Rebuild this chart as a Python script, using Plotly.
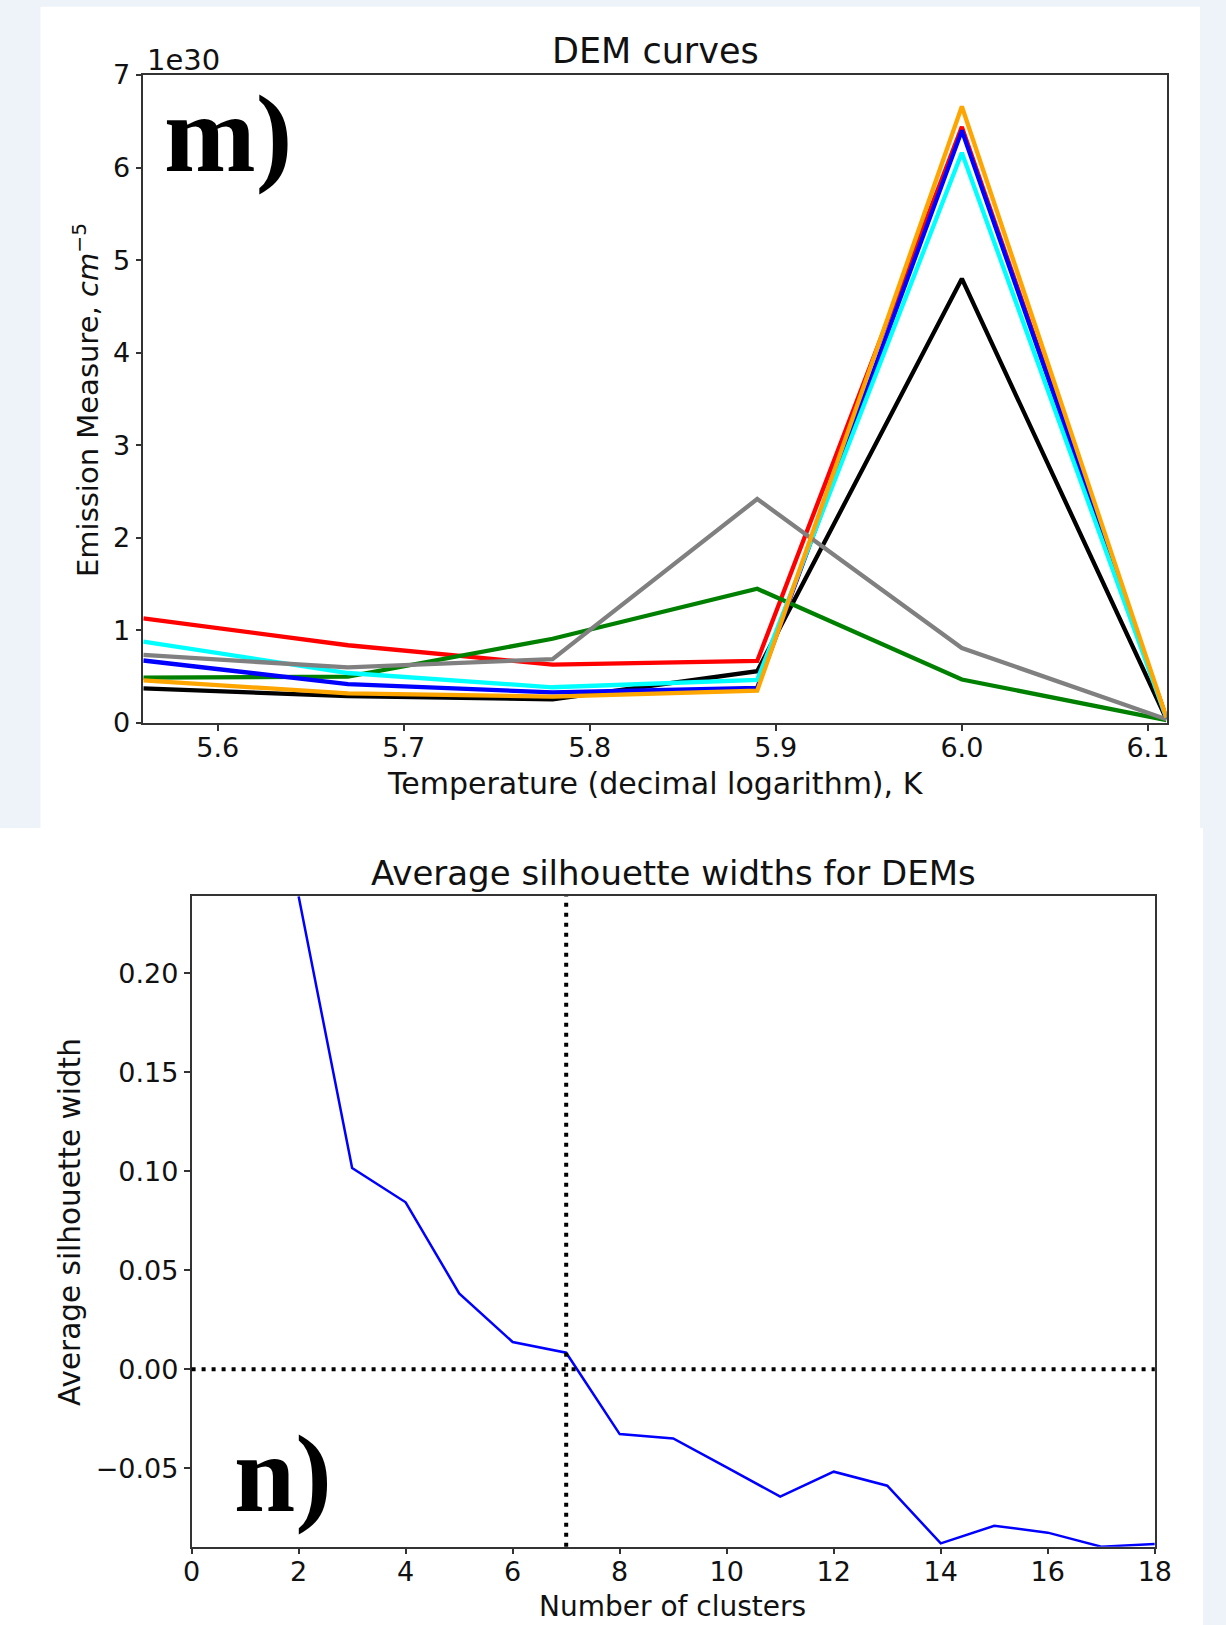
import plotly.graph_objects as go

W, H = 1226, 1625

# ---------------- DEM curves (panel m) ----------------
log_temperature = [5.56, 5.67, 5.78, 5.89, 6.00, 6.11]
EM_SCALE = 1e30
dem_black  = [0.375, 0.29, 0.256, 0.56, 4.80, 0.04]
dem_red    = [1.13, 0.84, 0.63, 0.67, 6.44, 0.05]
dem_green  = [0.49, 0.50, 0.91, 1.45, 0.47, 0.03]
dem_blue   = [0.675, 0.42, 0.33, 0.38, 6.40, 0.05]
dem_cyan   = [0.88, 0.54, 0.386, 0.465, 6.16, 0.05]
dem_grey   = [0.735, 0.60, 0.69, 2.42, 0.81, 0.04]
dem_orange = [0.46, 0.32, 0.285, 0.35, 6.66, 0.06]
em_ticks = [0, 1, 2, 3, 4, 5, 6, 7]

# ---------------- Silhouette widths (panel n) ----------------
n_clusters = [2, 3, 4, 5, 6, 7, 8, 9, 10, 11, 12, 13, 14, 15, 16, 17, 18]
avg_silhouette = [0.239, 0.1017, 0.0844, 0.0384, 0.0138, 0.0084, -0.0327,
                  -0.0349, -0.0495, -0.0643, -0.0517, -0.0588, -0.0879,
                  -0.079, -0.0825, -0.0896, -0.0882]
optimal_k = 7
zero_level = 0.0


def px(x):
    return x / W


def py(y):
    return 1 - y / H


FONT = "DejaVu Sans"
fig = go.Figure()

series = [
    (dem_black, "#000000"),
    (dem_red, "#FF0000"),
    (dem_green, "#008000"),
    (dem_blue, "#0000FF"),
    (dem_cyan, "#00FFFF"),
    (dem_grey, "#808080"),
    (dem_orange, "#FFA500"),
]
for vals, col in series:
    fig.add_trace(go.Scatter(
        x=log_temperature, y=[v * EM_SCALE for v in vals], mode="lines",
        line=dict(color=col, width=4.3), xaxis="x", yaxis="y",
        showlegend=False, hoverinfo="skip"))

fig.add_trace(go.Scatter(
    x=n_clusters, y=avg_silhouette, mode="lines",
    line=dict(color="#0000FF", width=2.5), xaxis="x2", yaxis="y2",
    showlegend=False, hoverinfo="skip"))

axis_style = dict(
    showline=True, mirror=True, linecolor="#333333", linewidth=1.5,
    ticks="outside", ticklen=6, tickwidth=1.5, tickcolor="#333333",
    showgrid=False, zeroline=False, automargin=False,
    tickfont=dict(family=FONT, size=27, color="#111111"),
)

fig.update_layout(
    width=W, height=H,
    margin=dict(l=0, r=0, t=0, b=0, pad=0),
    paper_bgcolor="#EEF2F9",
    plot_bgcolor="#FFFFFF",
    font=dict(family=FONT, color="#111111"),
    xaxis=dict(domain=[px(143.3), px(1166.5)], range=[5.56, 6.11],
               tick0=5.6, dtick=0.1, tickformat=".1f", anchor="y",
               ticklabelstandoff=-6, **axis_style),
    yaxis=dict(domain=[py(723), py(75)],
               range=[em_ticks[0] * EM_SCALE, em_ticks[-1] * EM_SCALE],
               tickvals=[t * EM_SCALE for t in em_ticks],
               ticktext=[str(t) for t in em_ticks], anchor="x",
               **axis_style),
    xaxis2=dict(domain=[px(191.6), px(1154.8)], range=[0, 18],
                tick0=0, dtick=2, anchor="y2", ticklabelstandoff=-6,
                **axis_style),
    yaxis2=dict(domain=[py(1546.7), py(896.3)],
                range=[min(avg_silhouette), max(avg_silhouette)],
                tick0=0, dtick=0.05, tickformat=".2f", anchor="x2",
                **axis_style),
)

shapes = [
    dict(type="rect", xref="paper", yref="paper", layer="below",
         x0=px(40.5), x1=px(1200), y0=py(828), y1=py(6.7),
         fillcolor="#FFFFFF", line=dict(width=0)),
    dict(type="rect", xref="paper", yref="paper", layer="below",
         x0=px(0), x1=px(1203), y0=py(1625), y1=py(828),
         fillcolor="#FFFFFF", line=dict(width=0)),
    dict(type="line", xref="x2", yref="y2 domain", x0=optimal_k, x1=optimal_k,
         y0=0, y1=1, line=dict(color="#000000", width=4, dash="4px,6px")),
    dict(type="line", xref="x2 domain", yref="y2", x0=0, x1=1,
         y0=zero_level, y1=zero_level,
         line=dict(color="#000000", width=4, dash="4px,6px")),
]
fig.update_layout(shapes=shapes)

ann = []


def add_text(text, x, y, size, xanchor="center", yanchor="middle",
             angle=0, family=FONT, color="#111111"):
    ann.append(dict(text=text, x=px(x), y=py(y), xref="paper", yref="paper",
                    xanchor=xanchor, yanchor=yanchor, showarrow=False,
                    textangle=angle, font=dict(family=family, size=size,
                                               color=color)))


add_text("DEM curves", 655, 51, 35)
add_text("1e30", 145, 60, 29, xanchor="left")
add_text("Temperature (decimal logarithm), K", 655, 783, 30)
add_text("Emission Measure, <i>cm</i><sup>−5</sup>", 86, 400, 29, angle=-90)
add_text("Average silhouette widths for DEMs", 673, 873, 34)
add_text("Number of clusters", 672, 1606, 28)
add_text("Average silhouette width", 70, 1222, 29.5, angle=-90)
add_text("<b>m)</b>", 162, 134, 110, xanchor="left",
         family="Liberation Serif", color="#000000")
add_text("<b>n)</b>", 232, 1474, 110, xanchor="left",
         family="Liberation Serif", color="#000000")
fig.update_layout(annotations=ann)

fig.write_html(
    "out.html",
    config={"displayModeBar": False},
    post_script="document.body.style.margin='0px';"
                "document.body.style.background='#EEF2F9';")
